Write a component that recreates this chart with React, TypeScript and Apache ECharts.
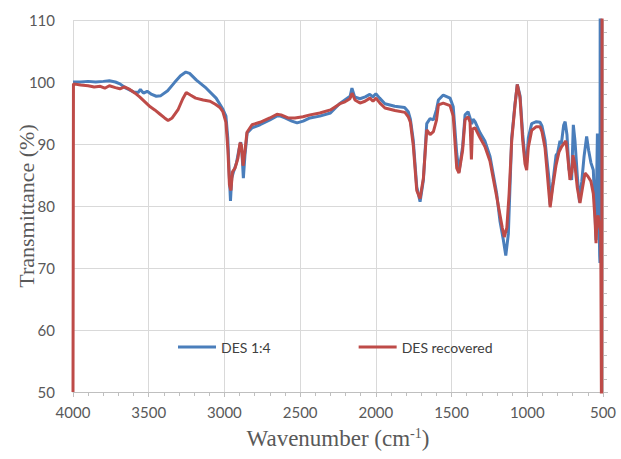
import React, { useEffect, useRef } from "react";
import * as echarts from "echarts";

const xTicks = [4000, 3500, 3000, 2500, 2000, 1500, 1000, 500];
const yTicks = [50, 60, 70, 80, 90, 100, 110];

const seriesNames = ["DES 1:4", "DES recovered"];

const blueX = [
  4000, 3950, 3900, 3850, 3800, 3760, 3720, 3690, 3650, 3600, 3570, 3555, 3535, 3510, 3480, 3450, 3420, 3375, 3330, 3290,
  3255, 3230, 3185, 3120, 3055, 3010, 2990, 2978, 2968, 2960, 2952, 2940, 2920, 2905, 2892, 2884, 2875, 2865, 2850, 2818,
  2765, 2700, 2655, 2630, 2600, 2555, 2520, 2480, 2435, 2370, 2300, 2240, 2205, 2170, 2158, 2140, 2105, 2070, 2040, 2020,
  2000, 1975, 1940, 1875, 1810, 1786, 1772, 1753, 1730, 1708, 1686, 1664, 1642, 1620, 1600, 1587, 1555, 1510, 1489, 1466,
  1451, 1427, 1411, 1391, 1378, 1367, 1358, 1345, 1312, 1280, 1246, 1202, 1180, 1158, 1142, 1125, 1103, 1081, 1066, 1048,
  1030, 1015, 1004, 993, 971, 940, 916, 903, 883, 870, 856, 849, 830, 810, 800, 784, 775, 760, 750, 738,
  725, 707, 700, 696, 685, 670, 655, 640, 625, 608, 595, 580, 564, 553, 546, 541, 537, 530, 522, 520, 518,
];
const blueY = [
  100.0, 100.0, 100.1, 100.0, 100.1, 100.2, 100.0, 99.7, 99.0, 98.4, 98.3, 98.8, 98.2, 98.5, 98.0, 97.7, 97.8, 98.6, 99.9, 101.0,
  101.6, 101.4, 100.3, 99.0, 97.4, 95.6, 94.5, 91.0, 85.0, 80.8, 84.5, 85.5, 87.0, 89.0, 90.3, 88.5, 84.5, 88.0, 91.8, 92.6,
  93.1, 93.9, 94.5, 94.5, 94.2, 93.7, 93.4, 93.7, 94.2, 94.5, 95.0, 96.5, 97.1, 97.7, 99.0, 97.6, 97.3, 97.6, 98.0, 97.6,
  98.1, 97.4, 96.5, 96.1, 95.9, 95.2, 94.0, 90.6, 83.1, 80.7, 84.2, 93.3, 94.1, 93.9, 95.5, 97.1, 97.9, 97.4, 96.0, 88.5,
  85.5, 89.6, 94.7, 95.2, 94.2, 93.2, 94.0, 93.6, 91.8, 90.5, 88.0, 82.0, 77.5, 74.5, 72.0, 75.5, 91.0, 96.5, 99.6, 97.8,
  91.5, 87.6, 87.0, 91.0, 93.3, 93.6, 93.5, 92.9, 90.6, 87.4, 84.2, 80.2, 84.0, 88.2, 88.5, 90.5, 90.0, 93.0, 93.6, 91.5,
  86.0, 84.2, 90.0, 93.1, 90.5, 85.0, 80.6, 84.0, 88.0, 91.2, 89.0, 87.0, 85.8, 79.0, 74.5, 85.0, 91.7, 84.0, 72.0, 70.8, 130,
];

const redX = [
  4000, 3997, 3950, 3900, 3860, 3820, 3790, 3760, 3720, 3690, 3660, 3625, 3590, 3560, 3525, 3490, 3460, 3425, 3395, 3372,
  3345, 3305, 3275, 3252, 3225, 3190, 3140, 3095, 3060, 3030, 3010, 2990, 2977, 2967, 2957, 2947, 2930, 2911, 2897, 2888,
  2877, 2864, 2851, 2818, 2765, 2700, 2653, 2626, 2580, 2534, 2481, 2435, 2370, 2300, 2237, 2204, 2171, 2157, 2138, 2105,
  2072, 2039, 2019, 1999, 1973, 1940, 1874, 1808, 1786, 1772, 1753, 1730, 1708, 1686, 1664, 1642, 1620, 1600, 1587, 1555,
  1510, 1489, 1466, 1451, 1427, 1411, 1391, 1378, 1369, 1362, 1345, 1312, 1280, 1246, 1202, 1180, 1165, 1152, 1135, 1120,
  1103, 1081, 1066, 1048, 1030, 1015, 1004, 993, 971, 940, 916, 903, 883, 870, 856, 849, 830, 810, 791, 773,
  760, 745, 735, 718, 706, 698, 685, 670, 652, 635, 619, 600, 580, 564, 553, 546, 540, 532, 525, 515, 509, 506,
];
const redY = [
  50, 99.7, 99.5, 99.4, 99.2, 99.3, 99.0, 99.4, 99.1, 98.9, 99.2, 98.8, 98.2, 97.6, 96.8, 96.0, 95.5, 94.8, 94.2, 93.8,
  94.2, 95.6, 97.3, 98.3, 97.9, 97.4, 97.1, 96.9, 96.4, 95.9, 95.2, 93.5, 89.0, 83.4, 82.5, 85.5, 86.1, 87.7, 90.2, 89.8,
  86.5, 89.0, 91.9, 93.1, 93.5, 94.2, 94.8, 94.7, 94.2, 94.2, 94.4, 94.7, 95.0, 95.5, 96.5, 96.8, 97.3, 98.2, 97.1, 96.6,
  96.9, 97.4, 96.9, 97.4, 96.6, 95.8, 95.4, 95.1, 94.4, 93.5, 89.8, 82.5, 81.2, 84.5, 92.3, 91.5, 92.0, 93.8, 96.3, 96.6,
  96.2, 94.5, 86.1, 85.3, 89.0, 93.9, 94.4, 93.5, 87.5, 92.4, 92.6, 91.0, 89.6, 87.2, 81.5, 78.5, 76.5, 75.0, 76.5, 82.0,
  90.5, 96.3, 99.6, 97.5, 90.5, 86.8, 85.8, 89.5, 92.2, 92.8, 92.8, 92.0, 89.4, 85.8, 81.8, 79.8, 83.4, 86.6, 88.7, 89.6,
  90.0, 90.5, 88.5, 84.2, 85.5, 88.2, 86.5, 83.0, 80.5, 83.0, 85.3, 84.8, 84.0, 82.0, 78.0, 74.0, 77.7, 78.5, 77.0, 76.0, 40, 120,
];

const BLUE = "#4a7ebb";
const RED = "#be4b48";
const GRID = "#d9d9d9";
const LABEL = "#595959";

export default function App() {
  const ref = useRef<HTMLDivElement>(null);
  useEffect(() => {
    if (!ref.current) return;
    const chart = echarts.init(ref.current, null, { renderer: "svg" });
    const blueData = blueX.map((x, i) => [x, blueY[i]]);
    const redData = redX.map((x, i) => [x, redY[i]]);
    chart.setOption({
      animation: false,
      backgroundColor: "#ffffff",
      grid: { left: 73, right: 18, top: 20, bottom: 67, containLabel: false, outerBoundsMode: "none" },
      legend: {
        left: 178,
        top: 340,
        icon: "rect",
        itemWidth: 38,
        itemHeight: 3,
        itemGap: 88,
        padding: 0,
        data: seriesNames,
        textStyle: { fontFamily: "Lato", fontSize: 14, color: "#404040" },
      },
      xAxis: {
        type: "value",
        min: xTicks[xTicks.length - 1],
        max: xTicks[0],
        interval: 500,
        inverse: true,
        name: "Wavenumber (cm{sup|-1})",
        nameLocation: "middle",
        nameGap: 34,
        nameMoveOverlap: false,
        nameTextStyle: {
          fontFamily: "Liberation Serif",
          fontSize: 23,
          color: LABEL,
          rich: {
            sup: { fontFamily: "Liberation Serif", fontSize: 14, color: LABEL, verticalAlign: "top", padding: [0, 0, 10, 0] },
          },
        },
        axisLine: { show: true, lineStyle: { color: "#bfbfbf", width: 1 } },
        axisTick: { show: true, length: 5, lineStyle: { color: "#bfbfbf" } },
        minorTick: { show: true, splitNumber: 5, length: 4, lineStyle: { color: "#bfbfbf" } },
        axisLabel: { fontFamily: "Lato", fontSize: 15, color: LABEL, margin: 12, formatter: (v: number) => String(v) },
        splitLine: { show: true, lineStyle: { color: GRID, width: 1 } },
      },
      yAxis: [
        {
          type: "value",
          min: yTicks[0],
          max: yTicks[yTicks.length - 1],
          interval: 10,
          name: "Transmittance (%)",
          nameLocation: "middle",
          nameGap: 36,
          nameMoveOverlap: false,
          nameTextStyle: { fontFamily: "Liberation Serif", fontSize: 22, color: LABEL },
          axisLine: { show: false },
          axisTick: { show: false },
          axisLabel: { fontFamily: "Lato", fontSize: 15, color: LABEL, margin: 18, formatter: (v: number) => String(v) },
          splitLine: { show: true, lineStyle: { color: GRID, width: 1 } },
        },
        {
          type: "value",
          position: "right",
          min: yTicks[0],
          max: yTicks[yTicks.length - 1],
          interval: 10,
          axisLine: { show: true, lineStyle: { color: "#bfbfbf" } },
          axisTick: { show: true, length: 5, lineStyle: { color: "#bfbfbf" } },
          minorTick: { show: true, splitNumber: 5, length: 4, lineStyle: { color: "#bfbfbf" } },
          axisLabel: { show: false },
          splitLine: { show: false },
        },
      ],
      series: [
        {
          name: seriesNames[0],
          type: "line",
          data: blueData,
          showSymbol: false,
          symbol: "none",
          color: BLUE,
          lineStyle: { color: BLUE, width: 3 },
          clip: true,
        },
        {
          name: seriesNames[1],
          type: "line",
          data: redData,
          showSymbol: false,
          symbol: "none",
          color: RED,
          lineStyle: { color: RED, width: 3 },
          clip: true,
        },
      ],
    });
    return () => chart.dispose();
  }, []);
  return <div ref={ref} style={{ width: 621, height: 459, position: "absolute", left: 0, top: 0 }} />;
}
